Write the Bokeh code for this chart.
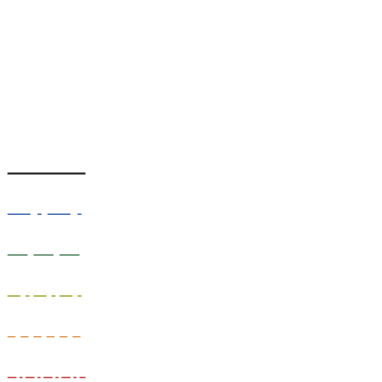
from bokeh.plotting import figure
from bokeh.models import Range1d
from bokeh.embed import file_html
from bokeh.resources import INLINE

# one sample per line style (legend-like swatches)
styles = ["solid", "23 7 4 6", "20 6", "13 5 4 4", "8 5", "9 3 3 3"]
colors = ["#222222", "#4c72b0", "#5b8a6a", "#9ab43c", "#e0a262", "#c44e52"]
widths = [2, 1.5, 1.5, 1.5, 1.5, 1.5]
rows = [0, 1, 2, 3, 4, 5]
x_start = [0, 0, 0, 0, 0, 0]
x_end = [78, 77, 77, 77, 77, 78]

p = figure(width=366, height=380, output_backend="svg", toolbar_location=None,
           x_range=Range1d(-7, 359), y_range=Range1d(5.0735, -4.2402),
           min_border=0, outline_line_color=None)
p.axis.visible = False
p.grid.visible = False
p.background_fill_color = "white"
p.border_fill_color = "white"

for r, x0, x1, dash, c, w in zip(rows, x_start, x_end, styles, colors, widths):
    p.line([x0, x1], [r, r], line_color=c, line_width=w, line_dash=dash)

open("out.html", "w").write(file_html(p, INLINE))
